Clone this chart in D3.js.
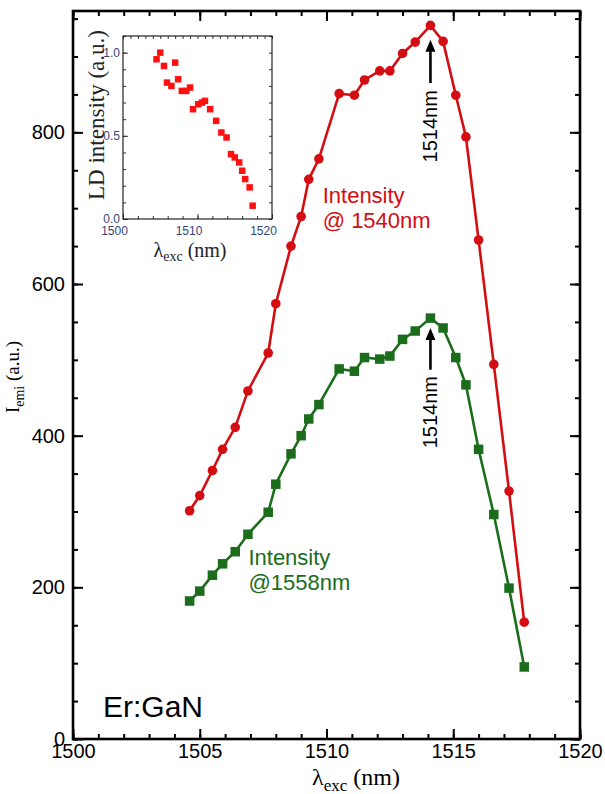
<!DOCTYPE html>
<html>
<head>
<meta charset="UTF-8">
<title>Er:GaN excitation spectrum</title>
<script src="https://cdnjs.cloudflare.com/ajax/libs/d3/7.8.5/d3.min.js"></script>
<style>
    body { margin: 0; background: #fff; }
    svg { display: block; }
    .tick text { font-family: "Liberation Sans", Arial, sans-serif; }
</style>
</head>
<body>
<svg id="chart" width="605" height="794"></svg>
<script>
// excitation wavelengths (nm), shared by both emission series
const wavelengths = [1504.6, 1505.0, 1505.5, 1505.9, 1506.4, 1506.9, 1507.7, 1508.0, 1508.6,
    1509.0, 1509.3, 1509.7, 1510.5, 1511.1, 1511.5, 1512.1, 1512.5, 1513.0, 1513.5,
    1514.1, 1514.6, 1515.1, 1515.5, 1516.0, 1516.6, 1517.2, 1517.8];
// emission intensity at 1540 nm (red) and 1558 nm (green)
const int1540 = [301, 321, 354, 382, 411, 459, 509, 574, 650, 689, 738, 765, 851, 849, 869,
    881, 881, 904, 919, 941, 920, 849, 794, 658, 494, 327, 154];
const int1558 = [182, 195, 216, 231, 247, 270, 299, 336, 376, 400, 422, 441, 488, 485, 503,
    501, 505, 527, 538, 555, 542, 503, 467, 382, 296, 199, 95];

// inset: LD intensity vs excitation wavelength
const insetWavelengths = [1504.5, 1505.0, 1505.5, 1505.9, 1506.5, 1507.0, 1507.4, 1507.9, 1508.5,
    1509.0, 1509.4, 1510.1, 1510.6, 1511.0, 1511.7, 1512.5, 1513.2, 1513.9, 1514.5, 1515.0,
    1515.6, 1516.0, 1516.4, 1517.0, 1517.4];
const insetLD = [0.96, 1.0, 0.92, 0.82, 0.80, 0.94, 0.84, 0.77, 0.77, 0.79, 0.66, 0.69, 0.70,
    0.71, 0.66, 0.59, 0.52, 0.49, 0.39, 0.37, 0.34, 0.29, 0.24, 0.19, 0.08];

const xTicks = [1500, 1505, 1510, 1515, 1520];
const yTicks = [0, 200, 400, 600, 800];
const insetXTicks = [1500, 1510, 1520];
const insetYTicks = [0, 0.5, 1.0];

const RED = "#d40d12", GREEN = "#1b6d1b";
const SANS = "'Liberation Sans', Arial, sans-serif";
const SERIF = "'Liberation Serif', 'Times New Roman', serif";

const svg = d3.select("#chart");

// ---------- main plot ----------
const m = { left: 73, right: 580, top: 11, bottom: 739 };
const x = d3.scaleLinear().domain([1500, 1520]).range([m.left, m.right]);
const y = d3.scaleLinear().domain([0, 960]).range([m.bottom, m.top]);

function ticks(g, axis) {
    g.call(axis).call(s => s.select(".domain").remove());
    g.selectAll(".tick line").attr("stroke", "#000").attr("stroke-width", 2);
}

// major + minor ticks, inward on all four sides
ticks(svg.append("g").attr("transform", `translate(0,${m.bottom})`),
    d3.axisBottom(x).tickValues(d3.range(1500, 1521, 1)).tickSize(-5).tickFormat(""));
ticks(svg.append("g").attr("transform", `translate(0,${m.top})`),
    d3.axisTop(x).tickValues(d3.range(1500, 1521, 1)).tickSize(-5).tickFormat(""));
ticks(svg.append("g").attr("transform", `translate(0,${m.bottom})`),
    d3.axisBottom(x).tickValues(xTicks).tickSize(-10).tickPadding(5).tickFormat(d3.format("d")));
ticks(svg.append("g").attr("transform", `translate(0,${m.top})`),
    d3.axisTop(x).tickValues(xTicks).tickSize(-10).tickFormat(""));

ticks(svg.append("g").attr("transform", `translate(${m.left},0)`),
    d3.axisLeft(y).tickValues(d3.range(0, 961, 50)).tickSize(-5).tickFormat(""));
ticks(svg.append("g").attr("transform", `translate(${m.right},0)`),
    d3.axisRight(y).tickValues(d3.range(0, 961, 50)).tickSize(-5).tickFormat(""));
ticks(svg.append("g").attr("transform", `translate(${m.left},0)`),
    d3.axisLeft(y).tickValues(yTicks).tickSize(-10).tickPadding(8));
ticks(svg.append("g").attr("transform", `translate(${m.right},0)`),
    d3.axisRight(y).tickValues(yTicks).tickSize(-10).tickFormat(""));

svg.selectAll(".tick text").attr("font-size", 20).attr("fill", "#000");

svg.append("rect")
    .attr("x", m.left).attr("y", m.top)
    .attr("width", m.right - m.left).attr("height", m.bottom - m.top)
    .attr("fill", "none").attr("stroke", "#000").attr("stroke-width", 2.6);

// axis titles
svg.append("text")
    .attr("transform", "translate(19,377) rotate(-90)")
    .attr("text-anchor", "middle")
    .attr("font-family", SERIF).attr("font-size", 19)
    .call(t => {
        t.append("tspan").text("I");
        t.append("tspan").attr("font-size", 14).attr("dy", 5).text("emi");
        t.append("tspan").attr("dy", -5).text(" (a.u.)");
    });

svg.append("text")
    .attr("x", 356).attr("y", 785)
    .attr("text-anchor", "middle")
    .attr("font-family", SERIF).attr("font-size", 24)
    .call(t => {
        t.append("tspan").text("λ");
        t.append("tspan").attr("font-size", 17).attr("dy", 6).text("exc");
        t.append("tspan").attr("dy", -6).text(" (nm)");
    });

// series
const line = d3.line().x(d => x(d[0])).y(d => y(d[1]));
const red = wavelengths.map((w, i) => [w, int1540[i]]);
const green = wavelengths.map((w, i) => [w, int1558[i]]);

svg.append("path").datum(red)
    .attr("d", line).attr("fill", "none").attr("stroke", RED).attr("stroke-width", 2.6);
svg.append("path").datum(green)
    .attr("d", line).attr("fill", "none").attr("stroke", GREEN).attr("stroke-width", 2.6);

svg.append("g").selectAll("circle").data(red).join("circle")
    .attr("cx", d => x(d[0])).attr("cy", d => y(d[1])).attr("r", 4.8)
    .attr("fill", RED);
const sq = 9.5;
svg.append("g").selectAll("rect").data(green).join("rect")
    .attr("x", d => x(d[0]) - sq / 2).attr("y", d => y(d[1]) - sq / 2)
    .attr("width", sq).attr("height", sq)
    .attr("fill", GREEN);

// series labels
function label(lines, wx, wy, color) {
    const t = svg.append("text")
        .attr("x", x(wx)).attr("y", y(wy))
        .attr("font-family", SANS).attr("font-size", 22).attr("fill", color);
    lines.forEach((s, i) => t.append("tspan").attr("x", x(wx)).attr("dy", i ? 25 : 0).text(s));
}
label(["Intensity", "@ 1540nm"], 1509.85, 707, RED);
label(["Intensity", "@1558nm"], 1506.92, 229, GREEN);

// peak arrows
const peaks = [
    { w: 1514.1, tip: 922, tail: 865, text: 808 },
    { w: 1514.1, tip: 542, tail: 487, text: 431 }
];
peaks.forEach(p => {
    const px = x(p.w), ty = y(p.tip);
    svg.append("line")
        .attr("x1", px).attr("x2", px).attr("y1", y(p.tail)).attr("y2", ty + 8)
        .attr("stroke", "#000").attr("stroke-width", 2.6);
    svg.append("path")
        .attr("d", `M${px},${ty} L${px - 5},${ty + 12} L${px + 5},${ty + 12} Z`)
        .attr("fill", "#000");
    svg.append("text")
        .attr("transform", `translate(${px},${y(p.text)}) rotate(-90)`)
        .attr("text-anchor", "middle").attr("dominant-baseline", "central")
        .attr("font-family", SANS).attr("font-size", 20).attr("fill", "#000")
        .text("1514nm");
});

svg.append("text")
    .attr("x", m.left + 30).attr("y", m.bottom - 22)
    .attr("font-family", SANS).attr("font-size", 30).attr("fill", "#000")
    .text("Er:GaN");

// ---------- inset ----------
const im = { left: 123, right: 272, top: 36, bottom: 219 };
const ix = d3.scaleLinear().domain([1500, 1520]).range([im.left, im.right]);
const iy = d3.scaleLinear().domain([0, 1.1]).range([im.bottom, im.top]);
const inset = svg.append("g");

inset.append("rect")
    .attr("x", im.left).attr("y", im.top)
    .attr("width", im.right - im.left).attr("height", im.bottom - im.top)
    .attr("fill", "#fff");

function iticks(g, axis) {
    g.call(axis).call(s => s.select(".domain").remove());
    g.selectAll(".tick line").attr("stroke", "#333").attr("stroke-width", 1);
}
iticks(inset.append("g").attr("transform", `translate(0,${im.bottom})`),
    d3.axisBottom(ix).tickValues(d3.range(1500, 1521, 2)).tickSize(-3).tickFormat(""));
iticks(inset.append("g").attr("transform", `translate(0,${im.top})`),
    d3.axisTop(ix).tickValues(d3.range(1500, 1521, 1)).tickSize(-3).tickFormat(""));
const ixAxis = inset.append("g").attr("transform", `translate(0,${im.bottom})`);
iticks(ixAxis,
    d3.axisBottom(ix).tickValues(insetXTicks).tickSize(-5).tickPadding(7).tickFormat(d3.format("d")));
iticks(inset.append("g").attr("transform", `translate(${im.left},0)`),
    d3.axisLeft(iy).tickValues(d3.range(0, 1.11, 0.1)).tickSize(-3).tickFormat(""));
iticks(inset.append("g").attr("transform", `translate(${im.right},0)`),
    d3.axisRight(iy).tickValues(d3.range(0, 1.11, 0.1)).tickSize(-3).tickFormat(""));
iticks(inset.append("g").attr("transform", `translate(${im.left},0)`),
    d3.axisLeft(iy).tickValues(insetYTicks).tickSize(-5).tickPadding(3).tickFormat(d3.format(".1f")));

inset.selectAll(".tick text").attr("font-size", 12).attr("fill", "#34457a");
// x labels in the inset sit a little left of their ticks
ixAxis.selectAll(".tick text").attr("dx", -9);

inset.append("rect")
    .attr("x", im.left).attr("y", im.top)
    .attr("width", im.right - im.left).attr("height", im.bottom - im.top)
    .attr("fill", "none").attr("stroke", "#222").attr("stroke-width", 1.2);

const isq = 6.5;
inset.append("g").selectAll("rect").data(insetWavelengths).join("rect")
    .attr("x", d => ix(d) - isq / 2).attr("y", (d, i) => iy(insetLD[i]) - isq / 2)
    .attr("width", isq).attr("height", isq)
    .attr("fill", "#ff1010");

inset.append("text")
    .attr("transform", "translate(104,115) rotate(-90)")
    .attr("text-anchor", "middle")
    .attr("font-family", SERIF).attr("font-size", 23).attr("fill", "#222")
    .text("LD intensity (a.u.)");

inset.append("text")
    .attr("x", 190).attr("y", 257)
    .attr("text-anchor", "middle")
    .attr("font-family", SERIF).attr("font-size", 20).attr("fill", "#222")
    .call(t => {
        t.append("tspan").text("λ");
        t.append("tspan").attr("font-size", 14).attr("dy", 4).text("exc");
        t.append("tspan").attr("dy", -4).text(" (nm)");
    });
</script>
</body>
</html>
